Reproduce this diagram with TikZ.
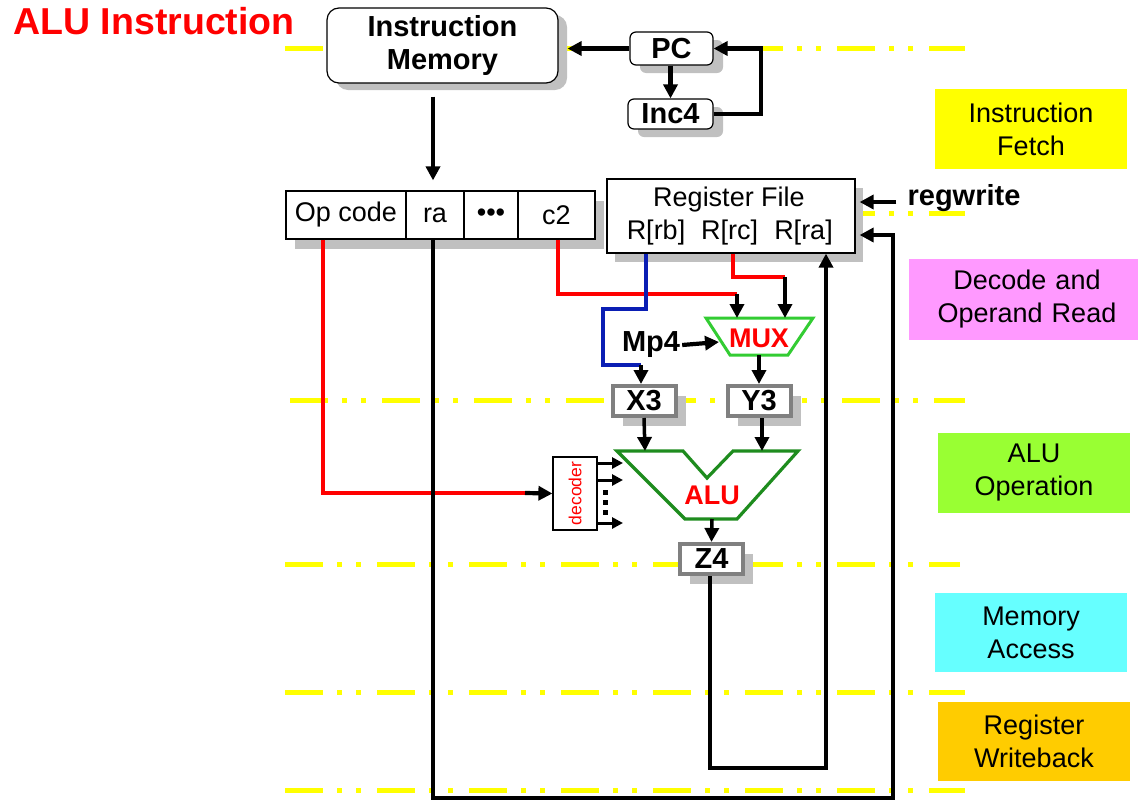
\documentclass[tikz,border=0pt]{standalone}
\usepackage{fontspec}
\setmainfont{Liberation Sans}
\usetikzlibrary{arrows.meta,shadows,calc}
\definecolor{ylin}{HTML}{FFFF00}
\definecolor{stgY}{HTML}{FFFF00}
\definecolor{stgM}{HTML}{FF99FF}
\definecolor{stgG}{HTML}{99FF33}
\definecolor{stgC}{HTML}{66FFFF}
\definecolor{stgO}{HTML}{FFCC00}
\definecolor{shgray}{HTML}{C0C0C0}
\definecolor{rgray}{HTML}{808080}
\definecolor{muxg}{HTML}{33CC33}
\definecolor{alug}{HTML}{1E8C1E}
\definecolor{bwire}{HTML}{0A1EB4}
\newcommand\myfont{\fontsize{27}{33}\selectfont}
\newcommand\mybold{\fontsize{29}{33}\selectfont\bfseries}
\begin{document}
\begin{tikzpicture}[x=1pt,y=-1pt,
  yline/.style={draw=ylin, line width=5pt, dash pattern=on 38pt off 14pt on 5pt off 14pt on 5pt off 16pt},
  pbox/.style={draw, line width=1.2pt, fill=white, inner sep=0pt, align=center, font=\myfont},
  regst/.style={draw=rgray, line width=4pt, fill=white, inner sep=0pt, font=\mybold,
     minimum width=63pt, minimum height=30pt,
     general shadow={fill=shgray, shadow xshift=10pt, shadow yshift=-10pt}},
  stage/.style={inner sep=0pt, align=center, font=\myfont},
  lbl/.style={inner sep=2pt, font=\myfont},
  wire/.style={line width=4.2pt},
  tip/.style={-{Triangle[length=14pt,width=14pt]}},
  redw/.style={wire, draw=red},
  bluew/.style={wire, draw=bwire}
]
\useasboundingbox (0,0) rectangle (1138,801);

% pipeline stage separators
\foreach \yy/\xa/\xb in {48/285/965, 213/285/965, 400/290/965, 564/285/960, 692/285/965, 790/285/965}
  \draw[yline] (\xa,\yy) -- (\xb,\yy);

% title
\node[inner sep=0pt, text=red, font=\fontsize{37.5}{40}\selectfont\bfseries] (title) at (154,21) {ALU Instruction};

% stage boxes
\node[stage, fill=stgY, minimum width=192pt, minimum height=80pt] (sIF) at (1031,129) {Instruction\\Fetch};
\node[stage, fill=stgM, minimum width=236pt, minimum height=81pt, text width=229pt] (sDR) at (1027,299.5) {Decode and\\Operand Read};
\node[stage, fill=stgG, minimum width=192pt, minimum height=80pt] (sALU) at (1034,473) {ALU\\Operation};
\node[stage, fill=stgC, minimum width=192pt, minimum height=79pt] (sMA) at (1031,632.5) {Memory\\Access};
\node[stage, fill=stgO, minimum width=192pt, minimum height=79pt] (sWB) at (1034,741.5) {Register\\Writeback};

% instruction memory, PC, Inc4
\node[pbox, font=\mybold, rounded corners=12pt, minimum width=231pt, minimum height=75pt,
      general shadow={fill=shgray, shadow xshift=9pt, shadow yshift=-7pt}] (im) at (442.5,45.5) {Instruction\\Memory};
\node[pbox, font=\mybold, rounded corners=6pt, minimum width=83pt, minimum height=33pt,
      general shadow={fill=shgray, shadow xshift=10pt, shadow yshift=-8pt}] (pc) at (671.5,48.5) {PC};
\node[pbox, font=\mybold, rounded corners=6pt, minimum width=85pt, minimum height=30pt,
      general shadow={fill=shgray, shadow xshift=10pt, shadow yshift=-8pt}] (inc) at (670.5,114) {Inc4};

% instruction fields
\fill[shgray] (295,201) rectangle (604,249);
\node[pbox, minimum width=120pt, minimum height=48pt] (opc) at (346,215) {Op code};
\node[pbox, minimum width=58pt, minimum height=48pt] (fra) at (435,215) {ra};
\node[pbox, minimum width=54pt, minimum height=48pt] (fdots) at (491,215) {•••};
\node[pbox, minimum width=77pt, minimum height=48pt] (fc2) at (556.5,215) {c2};

% register file
\node[pbox, minimum width=248pt, minimum height=74pt,
      general shadow={fill=shgray, shadow xshift=8pt, shadow yshift=-9pt}] (rf) at (731,216) {};
\node[lbl] (rftitle) at (729,200) {Register File};
\node[lbl] (rrb) at (656,233) {R[rb]};
\node[lbl] (rrc) at (729.5,233) {R[rc]};
\node[lbl] (rra) at (803.5,233) {R[ra]};
\node[lbl, font=\mybold] (rw) at (964,198) {regwrite};

% MUX
\draw[draw=muxg, line width=3pt, line join=miter] (706,318) -- (813,318) -- (788,355) -- (730,355) -- cycle;
\node[inner sep=0pt, text=red, font=\myfont\bfseries] (muxl) at (759,338) {MUX};
\node[lbl, font=\mybold] (mp4) at (651,345) {Mp4};
\coordinate (mA) at (737,318);
\coordinate (mB) at (785,318);
\coordinate (mL) at (719,342);
\coordinate (mO) at (759,355);

% pipeline registers
\node[regst] (x3) at (644,401) {X3};
\node[regst] (y3) at (759,401) {Y3};
\node[regst] (z4) at (711.5,559) {Z4};

% ALU
\draw[draw=alug, line width=3.2pt, line join=miter] (617,451) -- (683,451) -- (707,478) -- (733,451) -- (798,451) -- (737,519) -- (685,519) -- cycle;
\node[inner sep=0pt, text=red, font=\myfont\bfseries] (alul) at (712,495) {ALU};
\coordinate (aX) at (645,451);
\coordinate (aY) at (762,451);
\coordinate (aO) at (712,519);

% decoder
\node[draw, line width=1.2pt, fill=white, minimum width=44pt, minimum height=73pt, inner sep=0pt] (dec) at (575,493.5) {};
\node[rotate=90, text=red, inner sep=0pt, font=\fontsize{17.5}{19}\selectfont] (declbl) at (dec.center) {decoder};
\coordinate (d1) at (623,463);
\coordinate (d2) at (623,480);
\coordinate (d3) at (623,523);
\foreach \yy in {492,502,512} \fill (602.5,\yy-2.5) rectangle (607.5,\yy+2.5);

% bend points
\coordinate (opend) at (525,493);
\coordinate (c2turn) at (737,294);
\coordinate (rcturn) at (785,277);
\coordinate (rb1) at (646,309);
\coordinate (rb2) at (603,309);
\coordinate (rb3) at (603,365);
\coordinate (rb4) at (641,365);
\coordinate (wbc) at (893,798);
\coordinate (zl) at (710,768);
\coordinate (zr) at (826,768);
\coordinate (rwt) at ($(rf.east)+(4,-14)$);

% fetch connectors
\draw[wire, tip] (pc.west) -- ($(im.east |- pc.west)+(9,0)$);
\draw[wire, tip] (pc.south -| inc.north) -- (inc.north);
\draw[wire, line join=miter, tip] (inc.east) -- ++(47,0) |- (pc.east);
\draw[wire, tip] ($(im.south -| fra.north)+(-2,13)$) -- ($(fra.north)+(-2,-10)$);

% decode connectors
\draw[redw, line join=miter] ($(opc.south)+(-23,0)$) |- (opend);
\draw[wire, tip] (opend) -- (dec.west);
\draw[redw, line join=miter] ($(fc2.south)+(1.5,0)$) |- (c2turn);
\draw[wire, tip] (c2turn) -- (mA);
\draw[redw, line join=miter] ($(rf.south)+(2,0)$) |- (rcturn);
\draw[wire, tip] (rcturn) -- (mB);
\draw[bluew, line join=miter] ($(rf.south)+(-85,0)$) -- (rb1) -- (rb2) -- (rb3) -- (rb4);
\draw[wire, tip] (rb4) -- (x3.north -| rb4);
\draw[wire, tip] (mp4.east) -- (mL);
\draw[wire, tip] (mO) -- (y3.north);
\draw[wire, tip] ([xshift=-9pt]rw.west |- rwt) -- (rwt);

% ALU connectors
\draw[wire, line width=3.5pt, tip] (x3.south) -- (aX);
\draw[wire, line width=3.5pt, tip] (y3.south -| aY) -- (aY);
\draw[wire, line width=3.5pt, tip] (aO) -- (z4.north);
\draw[line width=3pt, -{Triangle[length=11pt,width=11pt]}] (dec.east |- d1) -- (d1);
\draw[line width=3pt, -{Triangle[length=11pt,width=11pt]}] (dec.east |- d2) -- (d2);
\draw[line width=3pt, -{Triangle[length=11pt,width=11pt]}] (dec.east |- d3) -- (d3);

% writeback connectors
\draw[wire, line join=miter, tip] ($(fra.south)+(-2,0)$) |- (wbc) |- ($(rf.east)+(4,19)$);
\draw[wire, line join=miter, tip] (z4.south -| zl) -- (zl) -- (zr) -- (rf.south -| zr);
\end{tikzpicture}
\end{document}
